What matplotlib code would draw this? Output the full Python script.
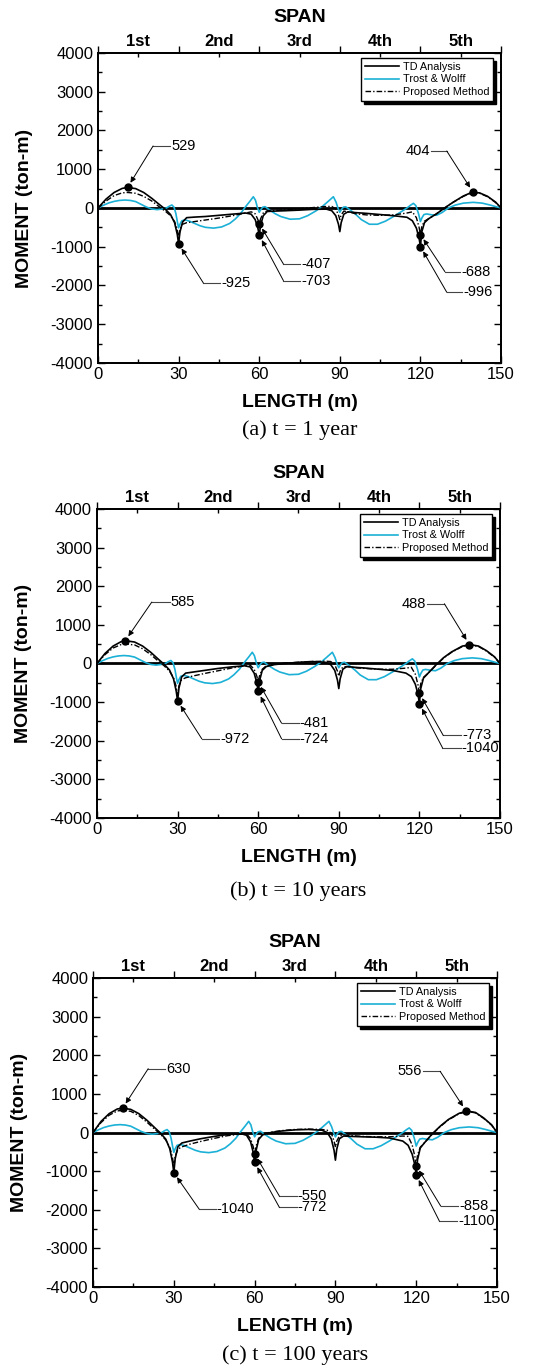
import matplotlib.pyplot as plt
from matplotlib.ticker import MultipleLocator

plt.rcParams['font.family'] = ['Liberation Sans', 'DejaVu Sans']
plt.rcParams['axes.unicode_minus'] = False

# stations along the bridge (m) for the TD / proposed curves
x_pos = [0, 3, 6, 9, 11, 14, 17, 20, 23, 25,
         27, 28.5, 29.5, 30, 30.5, 31.5, 33, 36, 40, 45,
         50, 55, 57, 58.5, 59.5, 60, 60.5, 61.5, 63, 66,
         70, 75, 80, 85, 87, 88.5, 89.5, 90, 90.5, 91.5,
         93, 96, 100, 105, 110, 115, 117, 118.5, 119.5, 120,
         120.5, 121.5, 123, 126, 129, 132, 136, 139, 142, 145,
         148, 150]

# TD analysis / proposed method moments (ton-m)
td_1 = [0, 230, 400, 505, 529, 500, 400, 250, 80, -30,
        -170, -380, -680, -925, -620, -360, -250, -235, -220, -190,
        -160, -130, -160, -300, -520, -703, -450, -200, -90, -80,
        -70, -55, -35, -30, -70, -200, -420, -610, -380, -160,
        -100, -120, -140, -170, -200, -240, -330, -520, -780, -996,
        -620, -380, -280, -150, 0, 140, 310, 400, 390, 300,
        150, 0]
pm_1 = [0, 180, 320, 390, 400, 380, 300, 180, 20, -80,
        -200, -350, -550, -780, -560, -420, -380, -350, -310, -260,
        -200, -130, -100, -150, -300, -407, -280, -130, -70, -60,
        -50, -20, 10, 40, 40, -30, -180, -300, -180, -80,
        -100, -150, -180, -190, -180, -130, -100, -250, -500, -688,
        -480, -340, -280, -150, 0, 140, 300, 390, 380, 290,
        140, 0]
td_10 = [0, 260, 450, 565, 585, 555, 450, 290, 100, -20,
         -170, -400, -720, -972, -640, -350, -250, -220, -180, -130,
         -90, -60, -90, -250, -500, -724, -450, -180, -80, -30,
         0, 30, 50, 30, -30, -180, -430, -650, -400, -150,
         -80, -100, -120, -150, -180, -250, -340, -540, -800, -1040,
         -650, -380, -270, -50, 150, 300, 450, 488, 450, 330,
         170, 0]
pm_10 = [0, 230, 400, 490, 500, 480, 380, 230, 50, -60,
         -200, -370, -600, -830, -580, -420, -370, -320, -260, -190,
         -120, -60, -40, -150, -330, -481, -320, -150, -60, -20,
         10, 30, 50, 60, 50, -30, -200, -330, -200, -90,
         -80, -110, -130, -150, -150, -120, -100, -280, -560, -773,
         -520, -360, -270, -60, 140, 290, 440, 480, 440, 320,
         160, 0]
td_100 = [0, 290, 490, 610, 630, 600, 490, 320, 120, -10,
          -170, -420, -760, -1040, -680, -370, -270, -220, -160, -100,
          -50, -30, -70, -240, -520, -772, -480, -180, -60, 0,
          40, 70, 80, 60, 0, -170, -460, -715, -430, -160,
          -90, -100, -110, -120, -140, -220, -330, -560, -840, -1100,
          -700, -400, -270, -30, 170, 340, 500, 556, 520, 380,
          200, 0]
pm_100 = [0, 260, 450, 560, 575, 550, 440, 270, 80, -40,
          -190, -380, -640, -900, -620, -430, -370, -300, -230, -150,
          -80, -40, -30, -160, -370, -550, -360, -150, -40, 10,
          50, 80, 90, 80, 60, -20, -220, -380, -220, -90,
          -60, -80, -100, -110, -110, -90, -100, -320, -620, -858,
          -580, -380, -270, -40, 160, 330, 490, 545, 510, 370,
          190, 0]

# Trost & Wolff curve
tw_x = [0, 2, 4, 6, 8, 10, 12, 14, 16, 18,
        20, 22, 24, 25.5, 26.5, 27.5, 28.3, 29, 29.6, 30,
        30.5, 31.2, 32.4, 34, 36, 38, 40, 43, 46, 49,
        51, 53, 55, 56.5, 57.8, 58.6, 59.3, 60, 60.6, 61.3,
        62.2, 64, 66, 68, 71.5, 75, 78, 81, 83.5, 85.5,
        87.6, 88.6, 89.4, 90, 90.6, 91.3, 92.2, 94, 96, 98,
        101, 104, 107, 110, 113, 115, 116.3, 117.4, 118.3, 119.3,
        120, 120.6, 121.3, 122.3, 124, 126, 128, 130.4, 133, 136,
        139.7, 143, 146, 148, 150]
tw_m = [0, 70, 130, 170, 195, 205, 195, 165, 95, 25,
        -25, -43, -25, 0, 45, 77, 20, -150, -380, -513,
        -420, -330, -308, -340, -400, -460, -500, -520, -490, -400,
        -290, -150, 40, 170, 290, 200, 20, -111, -40, 20,
        34, -60, -150, -220, -290, -280, -200, -80, 40, 160,
        290, 150, -20, -111, -40, 20, 30, -60, -170, -300,
        -420, -420, -340, -220, -90, 0, 70, 120, 60, -150,
        -350, -250, -170, -154, -175, -188, -120, 0, 75, 125,
        145, 125, 75, 35, 0]

span_names = ['1st', '2nd', '3rd', '4th', '5th']
span_mid = [15, 45, 75, 105, 135]
captions = ['(a) t = 1 year', '(b) t = 10 years', '(c) t = 100 years']

# annotated points: x, value
ann_x = [[11, 30, 60, 60, 120, 120, 139.6],
         [10.5, 30, 60, 60, 120, 120, 138.6],
         [11, 30, 60, 60, 120, 120, 138.5]]
ann_v = [[529, -925, -407, -703, -688, -996, 404],
         [585, -972, -481, -724, -773, -1040, 488],
         [630, -1040, -550, -772, -858, -1100, 556]]
# leader elbows and text x
elb = [[(20.5, 1600), (39.2, -1935), (69, -1445), (69, -1875), (129.1, -1643), (129.8, -2175), (129.8, 1470)],
       [(20.4, 1590), (39, -1950), (68.7, -1546), (68.7, -1950), (128.9, -1865), (128.6, -2183), (129.3, 1546)],
       [(20.5, 1654), (39.4, -1982), (69.2, -1646), (69.2, -1938), (129.1, -1904), (128.6, -2292), (128.9, 1584)]]
txt_x = [[27.3, 45.8, 75.6, 75.6, 135.3, 136, 123.5],
         [27.4, 45.8, 75.5, 75.5, 136, 135.8, 122.4],
         [27.3, 45.9, 76, 76, 136, 135.6, 122]]

# axes rectangles in figure fraction
rects = [[0.1805, 0.7343, 0.7422, 0.2269],
         [0.1786, 0.4012, 0.7422, 0.2262],
         [0.1713, 0.0578, 0.7440, 0.2262]]
cap_y = [0.6852, 0.3477, 0.0081]

td_all = [td_1, td_10, td_100]
pm_all = [pm_1, pm_10, pm_100]

fig = plt.figure(figsize=(5.43, 13.66), dpi=100)
fig.patch.set_facecolor('white')

for k in range(3):
    ax = fig.add_axes(rects[k])
    ax.axhline(0, color='k', lw=2, zorder=1)
    ax.plot(x_pos, td_all[k], color='k', lw=1.2, label='TD Analysis', zorder=3)
    ax.plot(tw_x, tw_m, color='#1bb0d6', lw=1.2, label='Trost & Wolff', zorder=2)
    ax.plot(x_pos, pm_all[k], color='k', lw=1.0, ls=(0, (4, 1.5, 1, 1.5)),
            label='Proposed Method', zorder=3)

    # annotations
    for i in range(len(ann_v[k])):
        px, pv = ann_x[k][i], ann_v[k][i]
        ex, ey = elb[k][i]
        tx = txt_x[k][i]
        ax.plot(px, pv, 'o', color='k', ms=5, zorder=5)
        ax.annotate('', xy=(px, pv), xytext=(ex, ey),
                    arrowprops=dict(arrowstyle='-|>', color='k', lw=0.7,
                                    shrinkA=0, shrinkB=4, mutation_scale=8))
        if tx > ex:
            ax.plot([ex, tx - 0.4], [ey, ey], color='#444444', lw=0.8)
            ax.text(tx, ey, str(pv), ha='left', va='center', fontsize=10.5)
        else:
            ax.plot([tx + 0.4, ex], [ey, ey], color='#444444', lw=0.8)
            ax.text(tx, ey, str(pv), ha='right', va='center', fontsize=10.5)

    ax.set_xlim(0, 150)
    ax.set_ylim(-4000, 4000)
    ax.set_xticks(range(0, 151, 30))
    ax.set_yticks(range(-4000, 4001, 1000))
    ax.xaxis.set_minor_locator(MultipleLocator(15))
    ax.yaxis.set_minor_locator(MultipleLocator(500))
    ax.tick_params(which='both', direction='in', right=True, labelsize=12)
    ax.tick_params(which='major', length=5, width=1)
    ax.tick_params(which='minor', length=3, width=1)
    ax.tick_params(axis='x', pad=3)
    for s in ax.spines.values():
        s.set_linewidth(1.3)

    ax.set_xlabel('LENGTH (m)', fontsize=14, fontweight='bold')
    ax.xaxis.set_label_coords(0.5, -0.127)
    ax.xaxis.label.set_va('center')
    ax.set_ylabel('MOMENT (ton-m)', fontsize=14, fontweight='bold')
    ax.yaxis.set_label_coords(-0.182, 0.5)
    ax.yaxis.label.set_va('center')

    ax.legend(loc='upper right', bbox_to_anchor=(0.98, 0.984), fontsize=7.8,
              fancybox=False, edgecolor='k', framealpha=1,
              shadow={'color': 'k', 'alpha': 1}, borderaxespad=0,
              handlelength=3.2, labelspacing=0.25, borderpad=0.35, handletextpad=0.3)

    # span axis on top
    top = ax.twiny()
    top.set_xlim(0, 150)
    top.set_xticks(range(0, 151, 30), labels=[''] * 6)
    top.set_xticks(span_mid, labels=span_names, minor=True, fontweight='bold')
    top.tick_params(which='major', direction='out', length=5, width=1)
    top.tick_params(which='minor', direction='in', length=3, width=1, labelsize=12, pad=3)
    top.set_xlabel('SPAN', fontsize=14, fontweight='bold')
    top.xaxis.set_label_coords(0.5, 1.116)
    top.xaxis.label.set_va('center')
    for s in top.spines.values():
        s.set_linewidth(1.3)

    cx = rects[k][0] + rects[k][2] / 2
    fig.text(cx, cap_y[k], captions[k], ha='center', va='center',
             fontsize=16, family='Liberation Serif')

fig.savefig('out.png', dpi=100)
